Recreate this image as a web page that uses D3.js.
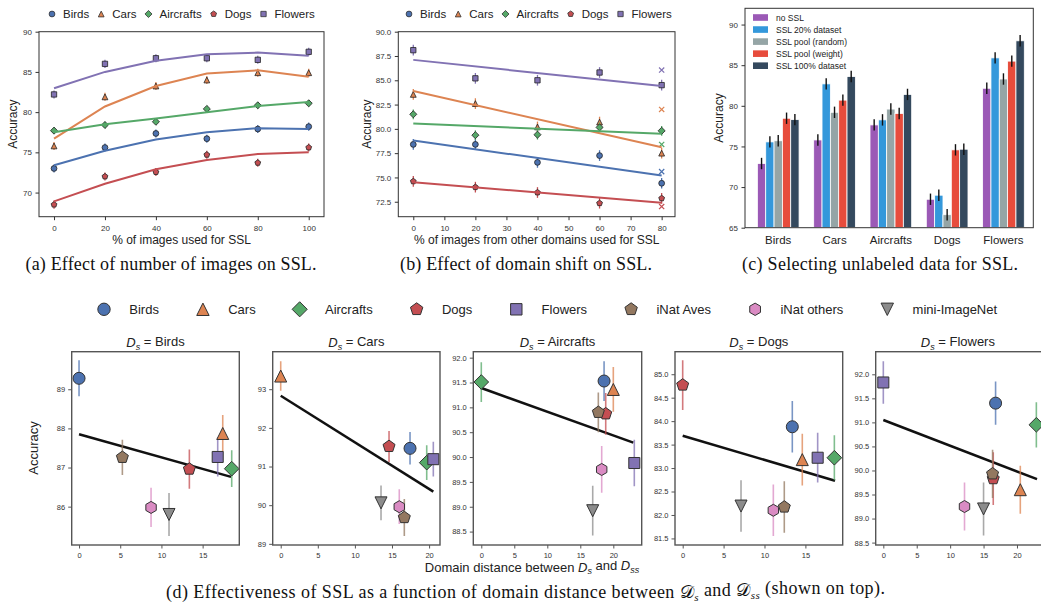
<!DOCTYPE html>
<html><head><meta charset="utf-8">
<script src="https://cdn.jsdelivr.net/npm/d3@7"></script>
<style>body{margin:0;background:#fff}</style>
</head><body><svg id="c" width="1041" height="607"></svg>
<script>
// ---------------- DATA ----------------
const datasets = ["Birds","Cars","Aircrafts","Dogs","Flowers"];
// (a) effect of number of images
const aPct = [0,20,40,60,80,100];
const aYTicks = [70,75,80,85,90];
const aPoints = [
  [73.0,75.6,77.35,76.7,77.9,78.2],
  [75.8,81.9,83.25,84.0,84.9,84.9],
  [77.7,78.4,78.8,80.4,80.85,81.1],
  [68.5,72.0,72.55,74.7,73.7,75.6],
  [82.2,86.0,86.7,86.7,86.5,87.5]];
const aFit = [
  [73.4,75.2,76.6,77.5,78.0,77.9],
  [76.7,80.7,83.25,84.8,85.2,84.4],
  [77.5,78.5,79.2,80.0,80.75,81.25],
  [68.9,71.1,72.9,74.05,74.8,75.0],
  [82.96,85.0,86.4,87.2,87.4,87.0]];
const aErr = [0.5,0.5,0.4,0.5,0.5];
// (b) effect of domain shift
const bPct = [0,20,40,60,80];
const bXTicks = [0,10,20,30,40,50,60,70,80];
const bYTicks = [72.5,75,77.5,80,82.5,85,87.5,90];
const bPoints = [
  [78.4,78.4,76.55,77.25,74.4],
  [83.55,82.6,80.2,80.7,77.5],
  [81.5,79.35,79.4,80.15,79.8],
  [74.6,74.0,73.45,72.35,72.85],
  [88.1,85.2,85.0,85.8,84.5]];
const bCross = [75.6,82.0,78.4,72.0,86.05];
const bFitPct = [0,80];
const bFit = [[78.8,75.2],[83.9,78.1],[80.55,79.5],[74.5,72.4],[87.1,84.4]];
const bErr = [0.55,0.55,0.5,0.55,0.55];
// (c) selecting unlabeled data
const cSeries = ["no SSL","SSL 20% dataset","SSL pool (random)","SSL pool (weight)","SSL 100% dataset"];
const cYTicks = [65,70,75,80,85,90];
const cVals = [
  [72.9,75.8,77.65,68.5,82.16],
  [75.56,82.7,78.27,69.0,85.9],
  [75.7,79.2,79.6,66.6,83.3],
  [78.47,80.7,79.06,74.58,85.5],
  [78.3,83.6,81.4,74.66,88.0]];
const cErr = 0.7;
// (d) domain distance
const dSets = ["Birds","Cars","Aircrafts","Dogs","Flowers","iNat Aves","iNat others","mini-ImageNet"];
const dDist = [
  [0,17.44,18.53,13.39,16.83,5.26,8.74,10.92],
  [17.43,0,19.68,14.6,20.57,16.66,15.98,13.52],
  [18.6,20.0,0,18.85,23.18,17.73,18.24,16.88],
  [13.4,14.62,18.54,0,16.5,12.42,11.08,7.13],
  [16.8,20.5,22.9,16.45,0,16.35,12.15,15.0]];
const dAcc = [
  [89.28,87.87,86.97,86.96,87.27,87.26,85.98,85.8],
  [91.47,93.34,91.1,91.52,91.19,89.68,89.96,90.06],
  [91.53,91.36,91.51,90.87,89.88,90.9,89.75,88.92],
  [83.88,83.18,83.22,84.77,83.22,82.17,82.1,82.19],
  [91.4,89.6,90.95,89.83,91.83,89.93,89.25,89.2]];
const dErr = [
  [0.46,0.47,0.47,0.5,0.5,0.45,0.5,0.55],
  [0.42,0.38,0.45,0.4,0.45,0.48,0.45,0.45],
  [0.4,0.45,0.4,0.42,0.47,0.4,0.47,0.5],
  [0.55,0.55,0.48,0.53,0.53,0.55,0.55,0.55],
  [0.45,0.5,0.47,0.55,0.44,0.5,0.5,0.55]];
const dFitX = [[0,18.45],[0,20.57],[0,23.03],[0,18.62],[0,23.0]];
const dFitY = [[87.85,86.76],[92.83,90.35],[91.39,90.29],[83.69,82.73],[91.05,89.82]];
const dXTicks = [[0,5,10,15],[0,5,10,15,20],[0,5,10,15,20],[0,5,10,15],[0,5,10,15,20]];
const dYTicks = [[86,87,88,89],[89,90,91,92,93],
  [88.5,89,89.5,90,90.5,91,91.5,92],[81.5,82,82.5,83,83.5,84,84.5,85],
  [88.5,89,89.5,90,90.5,91,91.5,92]];

// ---------------- STYLE ----------------
const FONT = '"Liberation Sans", Arial, Helvetica, sans-serif';
const SERIF = '"Liberation Serif", "Times New Roman", serif';
const colors = {"Birds":"#4C72B0","Cars":"#DD8452","Aircrafts":"#55A868","Dogs":"#C44E52","Flowers":"#8172B3",
  "iNat Aves":"#937860","iNat others":"#DA8BC3","mini-ImageNet":"#8C8C8C"};
const cColors = ["#9b59b6","#3498db","#95a5a6","#e74c3c","#34495e"];
const shapeOf = {"Birds":"circle","Cars":"tri","Aircrafts":"diamond","Dogs":"pent","Flowers":"square",
  "iNat Aves":"pent","iNat others":"hex","mini-ImageNet":"trid"};

function regPoly(n,r){const p=[];for(let i=0;i<n;i++){const a=-Math.PI/2+i*2*Math.PI/n;p.push([(r*Math.cos(a)).toFixed(2),(r*Math.sin(a)).toFixed(2)]);}return "M"+p.map(q=>q.join(",")).join("L")+"Z";}
function marker(kind,s){
  switch(kind){
    case "circle": return d3.symbol(d3.symbolCircle,Math.PI*s*s)();
    case "square": {const h=s*0.92;return `M${-h},${-h}H${h}V${h}H${-h}Z`;}
    case "diamond": return regPoly(4,s*1.22);
    case "tri": return `M0,${-s}L${s},${s}L${-s},${s}Z`;
    case "trid": return `M0,${s}L${s},${-s}L${-s},${-s}Z`;
    case "pent": return regPoly(5,s*1.05);
    case "hex": return regPoly(6,s*1.0);
  }
}

const svg = d3.select("#c");
svg.append("rect").attr("width",1041).attr("height",607).attr("fill","#fff");

function drawAxes(g,x,y,o){
  const [left,right]=x.range(), [bottom,top]=y.range();
  if(o.xTicks){
    const ax=g.append("g").attr("transform",`translate(0,${bottom})`)
      .call(d3.axisBottom(x).tickValues(o.xTicks).tickFormat(o.xFmt||d3.format("d")).tickSize(o.tick).tickPadding(o.xPad).tickSizeOuter(0));
    ax.attr("font-family",FONT).attr("font-size",o.fs);
    ax.select(".domain").remove();
    ax.selectAll("text").attr("fill",o.tc);
    ax.selectAll("line").attr("stroke",o.fc).attr("stroke-width",o.tw);
  }
  if(o.yTicks){
    const ay=g.append("g").attr("transform",`translate(${left},0)`)
      .call(d3.axisLeft(y).tickValues(o.yTicks).tickFormat(o.yFmt||d3.format("d")).tickSize(o.tick).tickPadding(o.yPad).tickSizeOuter(0));
    ay.attr("font-family",FONT).attr("font-size",o.fs);
    ay.select(".domain").remove();
    ay.selectAll("text").attr("fill",o.tc);
    ay.selectAll("line").attr("stroke",o.fc).attr("stroke-width",o.tw);
  }
  g.append("rect").attr("x",left).attr("y",top).attr("width",right-left).attr("height",bottom-top)
    .attr("fill","none").attr("stroke",o.fc).attr("stroke-width",o.fw);
}
function label(g,x,y,txt,fs,rot,anchor){
  const t=g.append("text").attr("font-family",FONT).attr("font-size",fs).attr("fill","#222")
    .attr("text-anchor",anchor||"middle").text(txt);
  if(rot) t.attr("transform",`translate(${x},${y}) rotate(${rot})`); else t.attr("x",x).attr("y",y);
  return t;
}
// parts: [text, type] type: n normal, i italic, s italic subscript
function rich(t,parts,subSize){
  let shifted=false;
  parts.forEach(([s,ty])=>{
    const ts=t.append("tspan").text(s);
    if(ty==="i"||ty==="s") ts.attr("font-style","italic");
    if(ty==="s"){ts.attr("font-size",subSize).attr("dy",shifted?0:"0.3em");shifted=true;}
    else if(shifted){ts.attr("dy","-0.3em");shifted=false;}
  });
}
function legendRow(g,names,startX,y,gap,textOff,fs,ms,sw){
  let x=startX;
  names.forEach(n=>{
    g.append("path").attr("d",marker(shapeOf[n],ms)).attr("transform",`translate(${x},${y})`)
      .attr("fill",colors[n]).attr("stroke","#333").attr("stroke-width",sw);
    const t=g.append("text").attr("x",x+textOff).attr("y",y+fs*0.35).attr("font-family",FONT)
      .attr("font-size",fs).attr("fill","#222").text(n);
    x = x+textOff+t.node().getComputedTextLength()+gap;
  });
}

// ---------------- (a) ----------------
{
  const g=svg.append("g");
  const x=d3.scaleLinear().domain([-5.9,106]).range([39,324]);
  const y=d3.scaleLinear().domain([67,90]).range([216.7,31.7]);
  drawAxes(g,x,y,{xTicks:aPct,yTicks:aYTicks,tick:3.5,xPad:5,yPad:3.5,fs:8,tc:"#333",fc:"#333",tw:1,fw:1});
  datasets.forEach((n,i)=>{
    aPct.forEach((p,k)=>{
      const v=aPoints[i][k];
      g.append("line").attr("x1",x(p)).attr("x2",x(p)).attr("y1",y(v-aErr[i])).attr("y2",y(v+aErr[i]))
        .attr("stroke",colors[n]).attr("stroke-width",1.3);
      g.append("path").attr("d",marker(shapeOf[n],2.9)).attr("transform",`translate(${x(p)},${y(v)})`)
        .attr("fill",colors[n]).attr("stroke","#222").attr("stroke-width",0.8);
    });
  });
  datasets.forEach((n,i)=>{
    g.append("path").attr("d",d3.line().x((p)=>x(p)).y((p,k)=>y(aFit[i][k]))(aPct))
      .attr("fill","none").attr("stroke",colors[n]).attr("stroke-width",2);
  });
  label(g,181.5,244,"% of images used for SSL",12);
  label(g,16.5,124.2,"Accuracy",12,-90);
  legendRow(g,datasets,52,14,12,11,11.5,2.9,0.8);
}
// ---------------- (b) ----------------
{
  const g=svg.append("g");
  const x=d3.scaleLinear().domain([-4.83,84.3]).range([398.3,675]);
  const y=d3.scaleLinear().domain([70.96,90]).range([216.7,31.7]);
  drawAxes(g,x,y,{xTicks:bXTicks,yTicks:bYTicks,yFmt:d3.format(".1f"),tick:3.5,xPad:5,yPad:3.5,fs:8,tc:"#333",fc:"#333",tw:1,fw:1});
  datasets.forEach((n,i)=>{
    bPct.forEach((p,k)=>{
      const v=bPoints[i][k];
      g.append("line").attr("x1",x(p)).attr("x2",x(p)).attr("y1",y(v-bErr[i])).attr("y2",y(v+bErr[i]))
        .attr("stroke",colors[n]).attr("stroke-width",1.3);
      g.append("path").attr("d",marker(shapeOf[n],2.9)).attr("transform",`translate(${x(p)},${y(v)})`)
        .attr("fill",colors[n]).attr("stroke","#222").attr("stroke-width",0.8);
    });
    const cx=x(bPct[bPct.length-1]), cy=y(bCross[i]), s=2.6;
    g.append("path").attr("d",`M${cx-s},${cy-s}L${cx+s},${cy+s}M${cx-s},${cy+s}L${cx+s},${cy-s}`)
      .attr("stroke",colors[n]).attr("stroke-width",1.2);
  });
  datasets.forEach((n,i)=>{
    g.append("path").attr("d",d3.line().x(p=>x(p)).y((p,k)=>y(bFit[i][k]))(bFitPct))
      .attr("fill","none").attr("stroke",colors[n]).attr("stroke-width",2);
  });
  label(g,536.7,244,"% of images from other domains used for SSL",12);
  label(g,370.5,124.2,"Accuracy",12,-90);
  legendRow(g,datasets,409,14,12,11,11.5,2.9,0.8);
}
// ---------------- (c) ----------------
{
  const g=svg.append("g");
  const x=d3.scaleLinear().domain([-0.59,4.53]).range([745,1033.3]);
  const y=d3.scaleLinear().domain([65,92]).range([227.7,8.3]);
  const bw=0.148;
  cSeries.forEach((s,j)=>{
    datasets.forEach((n,i)=>{
      const v=cVals[j][i], cx=i+(j-2)*bw;
      g.append("rect").attr("x",x(cx-bw/2)).attr("width",x(bw)-x(0)).attr("y",y(v)).attr("height",y(65)-y(v))
        .attr("fill",cColors[j]).attr("stroke","#fff").attr("stroke-width",0.8);
      g.append("line").attr("x1",x(cx)).attr("x2",x(cx)).attr("y1",y(v-cErr)).attr("y2",y(v+cErr))
        .attr("stroke","#111").attr("stroke-width",1.4);
    });
  });
  drawAxes(g,x,y,{xTicks:null,yTicks:cYTicks,tick:3.5,yPad:3.5,fs:8,tc:"#333",fc:"#333",tw:1,fw:1});
  datasets.forEach((n,i)=>label(g,x(i),243.5,n,11.5));
  label(g,723,118,"Accuracy",12,-90);
  cSeries.forEach((s,j)=>{
    const yy=17.5+j*12.05;
    g.append("rect").attr("x",753).attr("y",yy-3.3).attr("width",15).attr("height",6.6).attr("fill",cColors[j]);
    g.append("text").attr("x",776).attr("y",yy+3).attr("font-family",FONT).attr("font-size",8.5).attr("fill","#222").text(s);
  });
}
// ---------------- captions ----------------
[["(a) Effect of number of images on SSL.",171,291],["(b) Effect of domain shift on SSL.",526,252],["(c) Selecting unlabeled data for SSL.",880,276]]
 .forEach(([t,cx,w])=>svg.append("text").attr("x",cx).attr("y",269.5).attr("text-anchor","middle")
   .attr("font-family",SERIF).attr("font-size",18).attr("fill","#111")
   .attr("textLength",w).attr("lengthAdjust","spacing").text(t));

// ---------------- (d) ----------------
{
  const g=svg.append("g");
  legendRow(g,dSets,104,309.3,44,25.3,13,6.2,1);
  const frames=[[71.7,239.3],[272.7,440],[473.3,641.7],[675,842.7],[875.7,1043.3]];
  const xDom=[[-0.89,19.45],[-1.08,21.47],[-1.21,24.3],[-0.94,19.56],[-1.14,23.94]];
  const yDom=[[85.02,89.96],[88.97,93.97],[88.23,92.12],[81.36,85.48],[88.45,92.47]];
  const top=351.7,bot=545;
  const defs=svg.append("defs");
  datasets.forEach((src,p)=>{
    const x=d3.scaleLinear().domain(xDom[p]).range(frames[p]);
    const y=d3.scaleLinear().domain(yDom[p]).range([bot,top]);
    const pg=g.append("g");
    defs.append("clipPath").attr("id","clip"+p).append("rect").attr("x",frames[p][0]).attr("y",top)
      .attr("width",frames[p][1]-frames[p][0]).attr("height",bot-top);
    const inner=pg.append("g").attr("clip-path",`url(#clip${p})`);
    inner.append("line").attr("x1",x(dFitX[p][0])).attr("x2",x(dFitX[p][1]))
      .attr("y1",y(dFitY[p][0])).attr("y2",y(dFitY[p][1])).attr("stroke","#111").attr("stroke-width",2.5);
    dSets.forEach((n,k)=>{
      const xv=x(dDist[p][k]),v=dAcc[p][k],e=dErr[p][k];
      inner.append("line").attr("x1",xv).attr("x2",xv).attr("y1",y(v-e)).attr("y2",y(v+e))
        .attr("stroke",colors[n]).attr("stroke-opacity",0.75).attr("stroke-width",1.6);
    });
    dSets.forEach((n,k)=>{
      inner.append("path").attr("d",marker(shapeOf[n],6)).attr("transform",`translate(${x(dDist[p][k])},${y(dAcc[p][k])})`)
        .attr("fill",colors[n]).attr("stroke","#333").attr("stroke-width",1);
    });
    const fmt=(p>=2)?d3.format(".1f"):d3.format("d");
    drawAxes(pg,x,y,{xTicks:dXTicks[p],yTicks:dYTicks[p],yFmt:fmt,tick:3.5,xPad:4,yPad:3,fs:7.5,tc:"#333",fc:"#555",tw:1,fw:1.4});
    const t=pg.append("text").attr("x",(frames[p][0]+Math.min(frames[p][1],1040))/2).attr("y",347.3)
      .attr("text-anchor","middle").attr("font-family",FONT).attr("font-size",13).attr("fill","#222");
    rich(t,[["D","i"],["s","s"],[" = "+src,"n"]],9);
  });
  label(g,37.5,448,"Accuracy",13,-90);
  const xl=g.append("text").attr("x",532).attr("y",571.5).attr("text-anchor","middle")
    .attr("font-family",FONT).attr("font-size",13).attr("fill","#222");
  rich(xl,[["Domain distance between ","n"],["D","i"],["s","s"],[" and ","n"],["D","i"],["ss","s"]],9);
  const cap=svg.append("text").attr("x",525.5).attr("y",598).attr("text-anchor","middle")
    .attr("font-family",SERIF).attr("font-size",18).attr("fill","#111")
    .attr("textLength",719).attr("lengthAdjust","spacing");
  cap.append("tspan").text("(d) Effectiveness of SSL as a function of domain distance between ");
  cap.append("tspan").text("\u{1D49F}").attr("font-family",'"DejaVu Serif","DejaVu Sans",serif');
  cap.append("tspan").text("s").attr("font-style","italic").attr("font-size",11).attr("dy","0.3em");
  cap.append("tspan").text(" and ").attr("dy","-0.3em");
  cap.append("tspan").text("\u{1D49F}").attr("font-family",'"DejaVu Serif","DejaVu Sans",serif');
  cap.append("tspan").text("ss").attr("font-style","italic").attr("font-size",11).attr("dy","0.3em");
  cap.append("tspan").text(" (shown on top).").attr("dy","-0.3em");
}
</script></body></html>
